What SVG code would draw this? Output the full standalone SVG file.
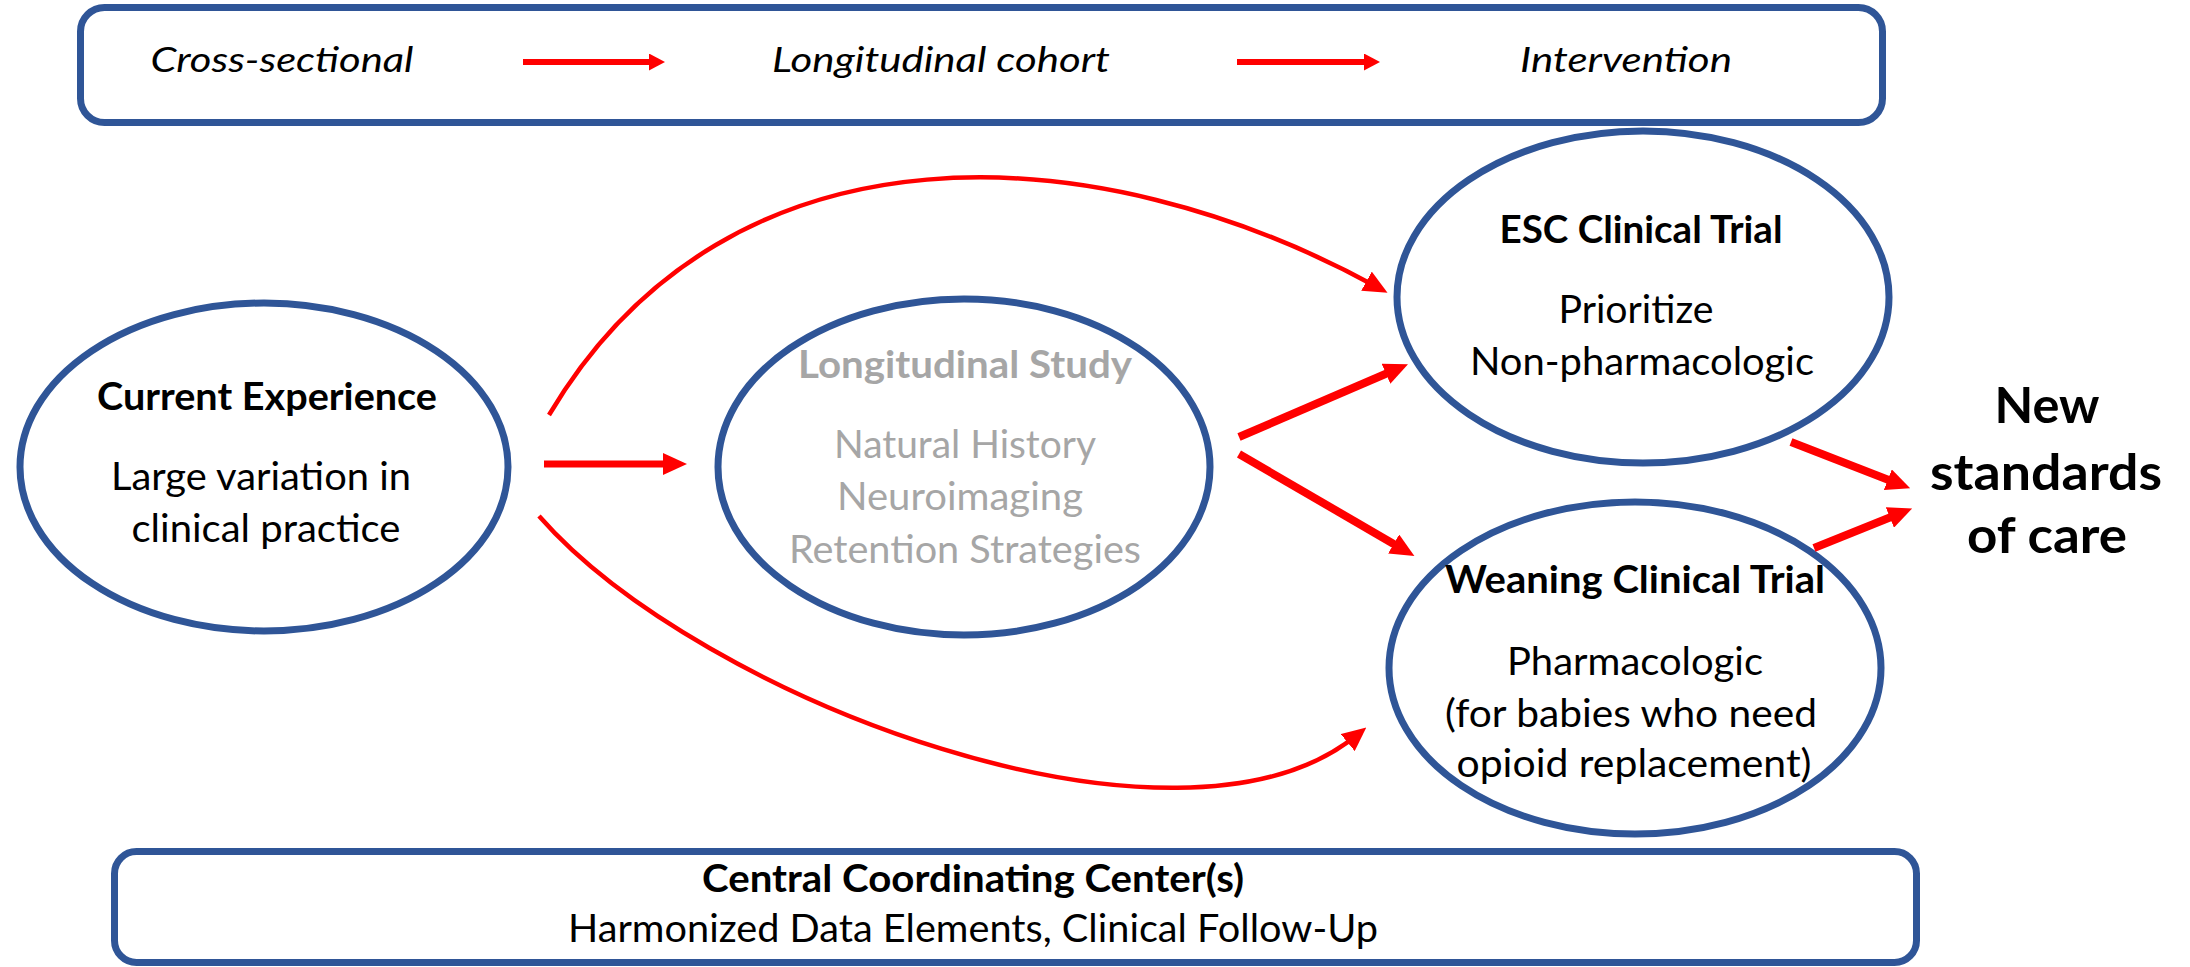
<svg xmlns="http://www.w3.org/2000/svg" width="2190" height="967" viewBox="0 0 2190 967">
<style>
.box{fill:#fff;stroke:#2F5597;stroke-width:7}
.node{fill:#fff;stroke:#2F5597;stroke-width:7}
.t{font-family:Lato,"Open Sans","Liberation Sans",sans-serif;font-size:38px;fill:#000;text-anchor:middle}
.b{font-weight:bold}
.i{font-style:italic;font-size:35px}
.g{fill:#A6A6A6}
.big{font-size:49px;font-weight:bold}
.arr{fill:none;stroke:#FF0000}
</style>
<defs>
<marker id="ah" viewBox="0 0 24 22" markerUnits="userSpaceOnUse" markerWidth="24" markerHeight="22" refX="12" refY="11" orient="auto"><path d="M0,0 L24,11 L0,22 Z" fill="#FF0000"/></marker>
<marker id="ahs" viewBox="0 0 16 17" markerUnits="userSpaceOnUse" markerWidth="16" markerHeight="17" refX="8" refY="8.5" orient="auto"><path d="M0,0 L16,8.5 L0,17 Z" fill="#FF0000"/></marker>
</defs>

<g id="legend">
<rect class="box" x="80.5" y="7.5" width="1802" height="115" rx="24"/>
<text class="t i" x="282" y="72" textLength="263" lengthAdjust="spacingAndGlyphs">Cross-sectional</text>
<text class="t i" x="941" y="72" textLength="338" lengthAdjust="spacingAndGlyphs">Longitudinal cohort</text>
<text class="t i" x="1626" y="72" textLength="212" lengthAdjust="spacingAndGlyphs">Intervention</text>
</g>

<g id="current-experience">
<ellipse class="node" cx="264" cy="467" rx="244" ry="164"/>
<text class="t b" x="267" y="410" textLength="340" lengthAdjust="spacingAndGlyphs">Current Experience</text>
<text class="t" x="261" y="490" textLength="300" lengthAdjust="spacingAndGlyphs">Large variation in</text>
<text class="t" x="266" y="542" textLength="269" lengthAdjust="spacingAndGlyphs">clinical practice</text>
</g>

<g id="longitudinal-study">
<ellipse class="node" cx="964" cy="467" rx="246" ry="168"/>
<text class="t b g" x="965" y="378" textLength="334" lengthAdjust="spacingAndGlyphs">Longitudinal Study</text>
<text class="t g" x="965" y="458" textLength="262" lengthAdjust="spacingAndGlyphs">Natural History</text>
<text class="t g" x="960" y="510" textLength="246" lengthAdjust="spacingAndGlyphs">Neuroimaging</text>
<text class="t g" x="965" y="563" textLength="352" lengthAdjust="spacingAndGlyphs">Retention Strategies</text>
</g>

<g id="esc-trial">
<ellipse class="node" cx="1643" cy="297" rx="246" ry="166"/>
<text class="t b" x="1641" y="243" textLength="283" lengthAdjust="spacingAndGlyphs">ESC Clinical Trial</text>
<text class="t" x="1636" y="323" textLength="155" lengthAdjust="spacingAndGlyphs">Prioritize</text>
<text class="t" x="1642" y="375" textLength="344" lengthAdjust="spacingAndGlyphs">Non-pharmacologic</text>
</g>

<g id="weaning-trial">
<ellipse class="node" cx="1635" cy="668" rx="246" ry="166"/>
<text class="t b" x="1635" y="593" textLength="380" lengthAdjust="spacingAndGlyphs">Weaning Clinical Trial</text>
<text class="t" x="1635" y="675" textLength="256" lengthAdjust="spacingAndGlyphs">Pharmacologic</text>
<text class="t" x="1631" y="727" textLength="372" lengthAdjust="spacingAndGlyphs">(for babies who need</text>
<text class="t" x="1634" y="777" textLength="355" lengthAdjust="spacingAndGlyphs">opioid replacement)</text>
</g>

<g id="new-standards">
<text class="t big" x="2047" y="423" textLength="105" lengthAdjust="spacingAndGlyphs">New</text>
<text class="t big" x="2046" y="490" textLength="232" lengthAdjust="spacingAndGlyphs">standards</text>
<text class="t big" x="2047" y="553" textLength="160" lengthAdjust="spacingAndGlyphs">of care</text>
</g>

<g id="coordinating-center">
<rect class="box" x="114.5" y="851.5" width="1802" height="111" rx="22"/>
<text class="t b" x="973" y="892" textLength="542" lengthAdjust="spacingAndGlyphs">Central Coordinating Center(s)</text>
<text class="t" x="973" y="942" textLength="810" lengthAdjust="spacingAndGlyphs">Harmonized Data Elements, Clinical Follow-Up</text>
</g>

<g id="connectors">
<path class="arr" stroke-width="6" d="M523,62 L657,62" marker-end="url(#ahs)"/>
<path class="arr" stroke-width="6" d="M1237,62 L1372,62" marker-end="url(#ahs)"/>
<path class="arr" stroke-width="7" d="M544,464 L675,464" marker-end="url(#ah)"/>
<path class="arr" stroke-width="8" d="M1239,437 L1397,369" marker-end="url(#ah)"/>
<path class="arr" stroke-width="8" d="M1239,454 L1404,550" marker-end="url(#ah)"/>
<path class="arr" stroke-width="8" d="M1791,442 L1899,484" marker-end="url(#ah)"/>
<path class="arr" stroke-width="8" d="M1814,548 L1901,513" marker-end="url(#ah)"/>
<path class="arr" stroke-width="4.5" d="M549,415 C730,110 1100,135 1377,287" marker-end="url(#ah)"/>
<path class="arr" stroke-width="4.5" d="M539,516 C700,700 1180,880 1357,735" marker-end="url(#ah)"/>
</g>
</svg>
